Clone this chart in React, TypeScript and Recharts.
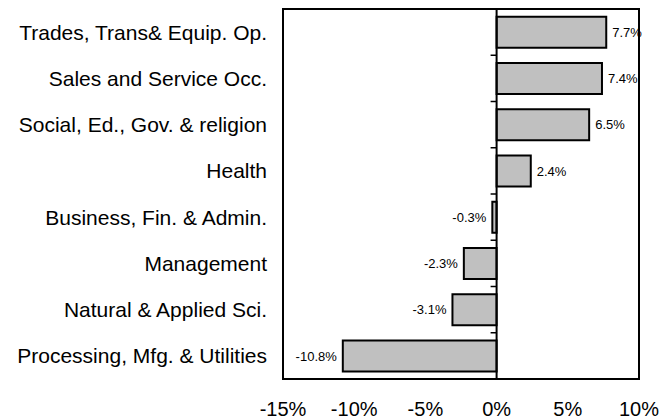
import {
  Bar,
  BarChart,
  LabelList,
  ReferenceArea,
  ReferenceLine,
  XAxis,
  YAxis,
} from 'recharts';

const categories = [
  'Trades, Trans& Equip. Op.',
  'Sales and Service Occ.',
  'Social, Ed., Gov. & religion',
  'Health',
  'Business, Fin. & Admin.',
  'Management',
  'Natural & Applied Sci.',
  'Processing, Mfg. & Utilities',
];
const changes = [7.7, 7.4, 6.5, 2.4, -0.3, -2.3, -3.1, -10.8];
const xTicks = [-15, -10, -5, 0, 5, 10];

const data = categories.map((name, i) => ({ name, value: changes[i] }));

const font = '"Liberation Sans", Arial, sans-serif';

// zero line with small tick marks between the categories
const ZeroLine = (props: any) => {
  const { x1, y1, x2, y2 } = props;
  const n = categories.length;
  const marks = [];
  for (let k = 0; k <= n; k++) {
    const y = y1 + ((y2 - y1) * k) / n;
    marks.push(
      <line key={k} x1={x1 - 6} x2={x1} y1={y} y2={y} stroke='#000' strokeWidth={1.5} />
    );
  }
  return (
    <g>
      <line x1={x1} y1={y1} x2={x2} y2={y2} stroke='#000' strokeWidth={2} />
      {marks}
    </g>
  );
};

export default function App() {
  return (
    <div style={{ width: 672, height: 420, background: '#fff' }}>
      <style>{`body{margin:0}`}</style>
      <BarChart
        width={672}
        height={420}
        data={data}
        layout='vertical'
        margin={{ top: 9, right: 33, left: 0, bottom: 0 }}
        barCategoryGap='17%'
      >
        <XAxis
          type='number'
          domain={[-15, 10]}
          ticks={xTicks}
          tickFormatter={(v) => `${v}%`}
          axisLine={false}
          tickLine={false}
          tickMargin={17}
          height={41}
          tick={{ fill: '#000', fontSize: 20, fontFamily: font }}
          allowDataOverflow
        />
        <YAxis
          type='category'
          dataKey='name'
          width={283}
          axisLine={false}
          tickLine={false}
          tickMargin={10}
          interval={0}
          tick={{ fill: '#000', fontSize: 21, fontFamily: font }}
        />
        <ReferenceArea x1={-15} x2={10} fill='none' stroke='#000' strokeWidth={2} fillOpacity={0} />
        <Bar
          dataKey='value'
          fill='#C0C0C0'
          stroke='#000'
          strokeWidth={2}
          isAnimationActive={false}
        >
          <LabelList
            dataKey='value'
            position='right'
            offset={6}
            formatter={(v: any) => `${v}%`}
            style={{ fill: '#000', fontSize: 13, fontFamily: font }}
          />
        </Bar>
        <ReferenceLine x={0} shape={ZeroLine} />
      </BarChart>
    </div>
  );
}
